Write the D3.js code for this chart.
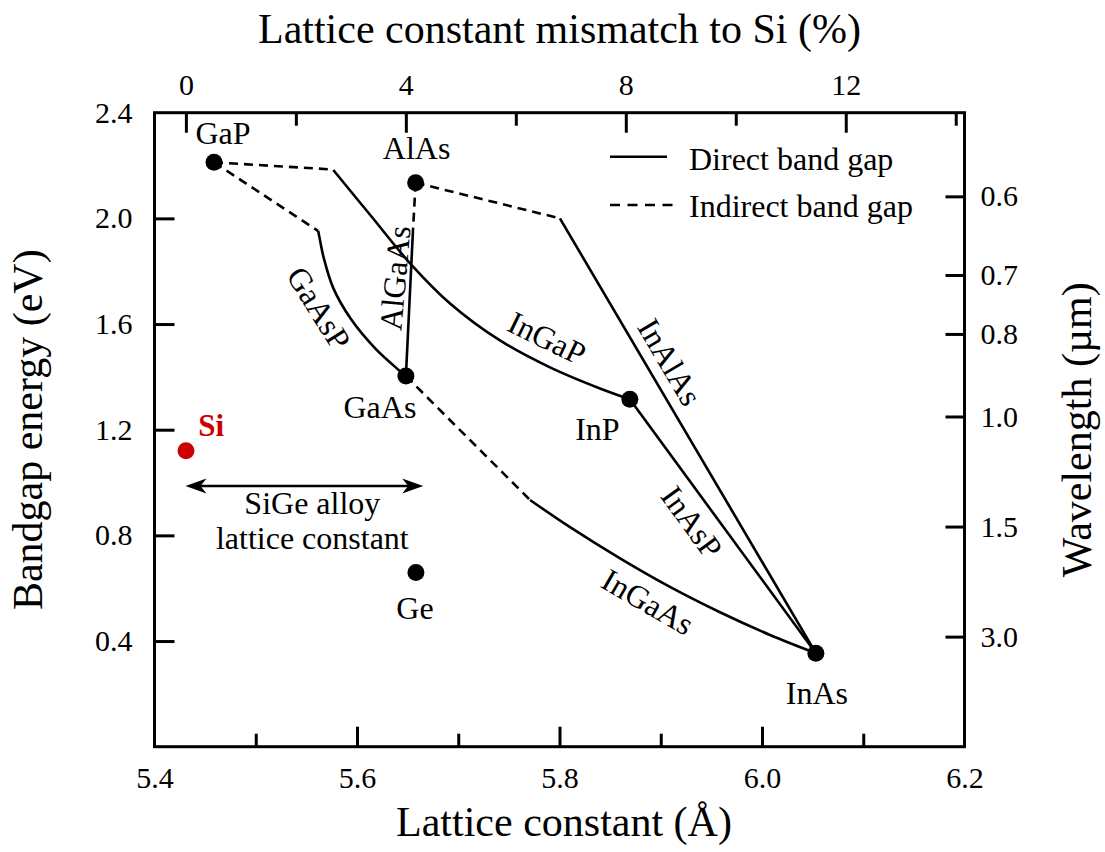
<!DOCTYPE html>
<html><head><meta charset="utf-8">
<script src="https://cdn.jsdelivr.net/npm/d3@7"></script>
<style>
body{margin:0;background:#fff}
svg{display:block}
text{font-family:"Liberation Serif","Times New Roman",serif;fill:#000}
</style>
</head><body>
<svg id="c" width="1105" height="852"></svg>
<script>
// ---------------- DATA ----------------
const compounds = ["GaP", "AlAs", "GaAs", "InP", "InAs", "Ge", "Si"];
const latticeA  = [5.4588, 5.6579, 5.6483, 5.8695, 6.0532, 5.6582, 5.4311];
const gapEV     = [2.212, 2.135, 1.403, 1.315, 0.354, 0.659, 1.120];

// ternary alloy curves (lattice constant Å, band gap eV)
const ingapIndA  = [5.4588, 5.5759];
const ingapIndE  = [2.212, 2.185];
const ingapDirA  = [5.5766, 5.6145, 5.6524, 5.6919, 5.7412, 5.7906, 5.8400, 5.8695];
const ingapDirE  = [2.183, 2.006, 1.830, 1.678, 1.538, 1.436, 1.356, 1.315];

const gaaspIndA  = [5.4588, 5.5617];
const gaaspIndE  = [2.212, 1.952];
const gaaspDirA  = [5.5617, 5.5644, 5.5667, 5.5766, 5.5940, 5.6177, 5.6424, 5.6483];
const gaaspDirE  = [1.952, 1.899, 1.857, 1.736, 1.619, 1.509, 1.422, 1.403];

const algaasIndA = [5.6579, 5.6553];
const algaasIndE = [2.135, 1.956];
const algaasDirA = [5.6553, 5.6483];
const algaasDirE = [1.956, 1.403];

const inalasIndA = [5.6579, 5.8004];
const inalasIndE = [2.135, 2.000];
const inalasDirA = [5.8004, 6.0532];
const inalasDirE = [2.000, 0.354];

const ingaasIndA = [5.6483, 5.7709];
const ingaasIndE = [1.403, 0.934];
const ingaasDirA = [5.7709, 5.8104, 5.8598, 5.9091, 5.9585, 6.0079, 6.0532];
const ingaasDirE = [0.934, 0.831, 0.713, 0.605, 0.509, 0.423, 0.354];

const inaspDirA  = [5.8695, 6.0532];
const inaspDirE  = [1.315, 0.354];

// alloy names and label anchors (data units) + rotation
const alloyNames = ["GaAsP", "AlGaAs", "InGaP", "InAlAs", "InAsP", "InGaAs"];
const alloyLabA  = [5.5624, 5.6375, 5.7876, 5.9090, 5.9308, 5.8873];
const alloyLabE  = [1.660, 1.774, 1.547, 1.456, 0.850, 0.548];
const alloyRot   = [58, -85, 26, 59.5, 54, 30];

// SiGe range arrow
const sigeArrowA = [5.4306, 5.6654];
const sigeArrowE = 0.987;
const sigeText   = ["SiGe alloy", "lattice constant"];

// axis ticks
const xLabelTicks  = [5.4, 5.6, 5.8, 6.0, 6.2];
const xMajorTicks  = [5.6, 5.8, 6.0];
const xMinorTicks  = [5.5, 5.7, 5.9, 6.1];
const yTicks       = [0.4, 0.8, 1.2, 1.6, 2.0];
const yLabelTicks  = [0.4, 0.8, 1.2, 1.6, 2.0, 2.4];
const pctLabelTicks = [0, 4, 8, 12];
const pctMinorTicks = [2, 6, 10, 14];
const waveTicks    = [0.6, 0.7, 0.8, 1.0, 1.5, 3.0];
const waveLabels   = ["0.6", "0.7", "0.8", "1.0", "1.5", "3.0"];
const siLattice = 5.431;
const evMicron = 1.25;

// ---------------- LAYOUT ----------------
const L = 154.5, R = 964.5, T = 112.7, B = 746.7;
const svg = d3.select("#c");
const x = d3.scaleLinear().domain([5.4, 6.2]).range([L, R]);
const y = d3.scaleLinear().domain([0, 2.4]).range([B, T]);
const pct = a => (a / siLattice - 1) * 100;
const xp = d3.scaleLinear().domain([pct(5.4), pct(6.2)]).range([L, R]);

const TICKFONT = 30, LABFONT = 32, TITLEFONT = 42;
const lineW = 2.6, dash = "9,6";

function styleAxis(sel, fs) {
  sel.select(".domain").remove();
  sel.selectAll(".tick line").attr("stroke", "#000").attr("stroke-width", 3);
  sel.selectAll(".tick text").attr("font-size", fs).attr("font-family", "Liberation Serif, serif").attr("fill", "#000");
}

// ticks (inward)
svg.append("g").attr("transform", `translate(0,${B})`)
  .call(d3.axisBottom(x).tickValues(xMajorTicks).tickSize(-20).tickFormat("")).call(s => styleAxis(s));
svg.append("g").attr("transform", `translate(0,${B})`)
  .call(d3.axisBottom(x).tickValues(xMinorTicks).tickSize(-13).tickFormat("")).call(s => styleAxis(s));
svg.append("g").attr("transform", `translate(0,${T})`)
  .call(d3.axisTop(xp).tickValues(pctLabelTicks).tickSize(-20).tickFormat("")).call(s => styleAxis(s));
svg.append("g").attr("transform", `translate(0,${T})`)
  .call(d3.axisTop(xp).tickValues(pctMinorTicks).tickSize(-13).tickFormat("")).call(s => styleAxis(s));
svg.append("g").attr("transform", `translate(${L},0)`)
  .call(d3.axisLeft(y).tickValues(yTicks).tickSize(-20).tickFormat("")).call(s => styleAxis(s));
svg.append("g").attr("transform", `translate(${R},0)`)
  .call(d3.axisRight(y).tickValues(waveTicks.map(l => evMicron / l)).tickSize(-19).tickFormat("")).call(s => styleAxis(s));

// tick labels
svg.append("g").attr("transform", `translate(0,${B})`)
  .call(d3.axisBottom(x).tickValues(xLabelTicks).tickSize(0).tickPadding(20).tickFormat(d3.format(".1f")))
  .call(s => styleAxis(s, TICKFONT));
svg.append("g").attr("transform", `translate(0,${T})`)
  .call(d3.axisTop(xp).tickValues(pctLabelTicks).tickSize(0).tickPadding(18).tickFormat(d3.format("d")))
  .call(s => styleAxis(s, TICKFONT));
svg.append("g").attr("transform", `translate(${L},0)`)
  .call(d3.axisLeft(y).tickValues(yLabelTicks).tickSize(0).tickPadding(22).tickFormat(d3.format(".1f")))
  .call(s => styleAxis(s, TICKFONT));
svg.append("g").attr("transform", `translate(${R},0)`)
  .call(d3.axisRight(y).tickValues(waveTicks.map(l => evMicron / l)).tickSize(0).tickPadding(16).tickFormat((d, i) => waveLabels[i]))
  .call(s => styleAxis(s, TICKFONT));

// frame
svg.append("rect").attr("x", L).attr("y", T).attr("width", R - L).attr("height", B - T)
  .attr("fill", "none").attr("stroke", "#000").attr("stroke-width", 3);

// axis titles
svg.append("text").attr("x", (L + R) / 2).attr("y", 43).attr("text-anchor", "middle")
  .attr("font-size", TITLEFONT).text("Lattice constant mismatch to Si (%)");
svg.append("text").attr("x", 564).attr("y", 836).attr("text-anchor", "middle")
  .attr("font-size", TITLEFONT).text("Lattice constant (Å)");
svg.append("text").attr("transform", `translate(42,${(T + B) / 2}) rotate(-90)`).attr("text-anchor", "middle")
  .attr("font-size", TITLEFONT).text("Bandgap energy (eV)");
svg.append("text").attr("transform", `translate(1091,${(T + B) / 2}) rotate(-90)`).attr("text-anchor", "middle")
  .attr("font-size", TITLEFONT).text("Wavelength (µm)");

// curves
const zip = (as, es) => as.map((a, i) => [a, es[i]]);
const segs = [
  [ingapIndA, ingapIndE, true], [ingapDirA, ingapDirE, false],
  [gaaspIndA, gaaspIndE, true], [gaaspDirA, gaaspDirE, false],
  [algaasIndA, algaasIndE, true], [algaasDirA, algaasDirE, false],
  [inalasIndA, inalasIndE, true], [inalasDirA, inalasDirE, false],
  [ingaasIndA, ingaasIndE, true], [ingaasDirA, ingaasDirE, false],
  [inaspDirA, inaspDirE, false]
];
const gen = d3.line().x(d => x(d[0])).y(d => y(d[1])).curve(d3.curveCatmullRom.alpha(0.5));
svg.append("g").selectAll("path").data(segs).join("path")
  .attr("d", s => gen(zip(s[0], s[1])))
  .attr("fill", "none").attr("stroke", "#000").attr("stroke-width", lineW)
  .attr("stroke-dasharray", s => s[2] ? dash : null);

// alloy labels
svg.append("g").selectAll("text").data(alloyNames).join("text")
  .attr("transform", (d, i) => `translate(${x(alloyLabA[i])},${y(alloyLabE[i])}) rotate(${alloyRot[i]})`)
  .attr("text-anchor", "middle").attr("dominant-baseline", "central")
  .attr("font-size", LABFONT).text(d => d);

// SiGe arrow
const ay = y(sigeArrowE), ax0 = x(sigeArrowA[0]), ax1 = x(sigeArrowA[1]);
svg.append("line").attr("x1", ax0 + 8).attr("x2", ax1 - 8).attr("y1", ay).attr("y2", ay)
  .attr("stroke", "#000").attr("stroke-width", 2.6);
svg.append("path").attr("d", `M${ax0},${ay} L${ax0 + 21},${ay - 7.5} L${ax0 + 15},${ay} L${ax0 + 21},${ay + 7.5} Z`).attr("fill", "#000");
svg.append("path").attr("d", `M${ax1},${ay} L${ax1 - 21},${ay - 7.5} L${ax1 - 15},${ay} L${ax1 - 21},${ay + 7.5} Z`).attr("fill", "#000");
svg.append("g").selectAll("text").data(sigeText).join("text")
  .attr("x", (ax0 + ax1) / 2 + 8).attr("y", (d, i) => ay + 28 + i * 35.5).attr("text-anchor", "middle")
  .attr("font-size", 32).text(d => d);

// dots
const dotColor = c => c === "Si" ? "#cc0000" : "#000";
svg.append("g").selectAll("circle").data(compounds).join("circle")
  .attr("cx", (d, i) => x(latticeA[i])).attr("cy", (d, i) => y(gapEV[i])).attr("r", 8.5)
  .attr("fill", dotColor);

// compound labels (pixel offsets from the dot)
const labOff = {GaP: [9, -18, "middle"], AlAs: [1, -23.5, "middle"], GaAs: [-26, 42, "middle"],
  InP: [-32.5, 40.7, "middle"], InAs: [1, 51, "middle"], Ge: [-1, 46.6, "middle"], Si: [12.3, -14.7, "start"]};
svg.append("g").selectAll("text").data(compounds).join("text")
  .attr("x", (d, i) => x(latticeA[i]) + labOff[d][0])
  .attr("y", (d, i) => y(gapEV[i]) + labOff[d][1])
  .attr("text-anchor", d => labOff[d][2])
  .attr("font-size", d => d === "Si" ? 31 : LABFONT)
  .attr("font-weight", d => d === "Si" ? "bold" : null)
  .style("fill", dotColor)
  .text(d => d);

// legend
const lg = svg.append("g");
lg.append("line").attr("x1", 610).attr("x2", 667).attr("y1", 156.7).attr("y2", 156.7)
  .attr("stroke", "#000").attr("stroke-width", lineW);
lg.append("line").attr("x1", 610).attr("x2", 674).attr("y1", 205).attr("y2", 205)
  .attr("stroke", "#000").attr("stroke-width", lineW).attr("stroke-dasharray", "10,7.5");
lg.append("text").attr("x", 689).attr("y", 170).attr("font-size", LABFONT).text("Direct band gap");
lg.append("text").attr("x", 689).attr("y", 216.7).attr("font-size", LABFONT).text("Indirect band gap");
</script>
</body></html>
